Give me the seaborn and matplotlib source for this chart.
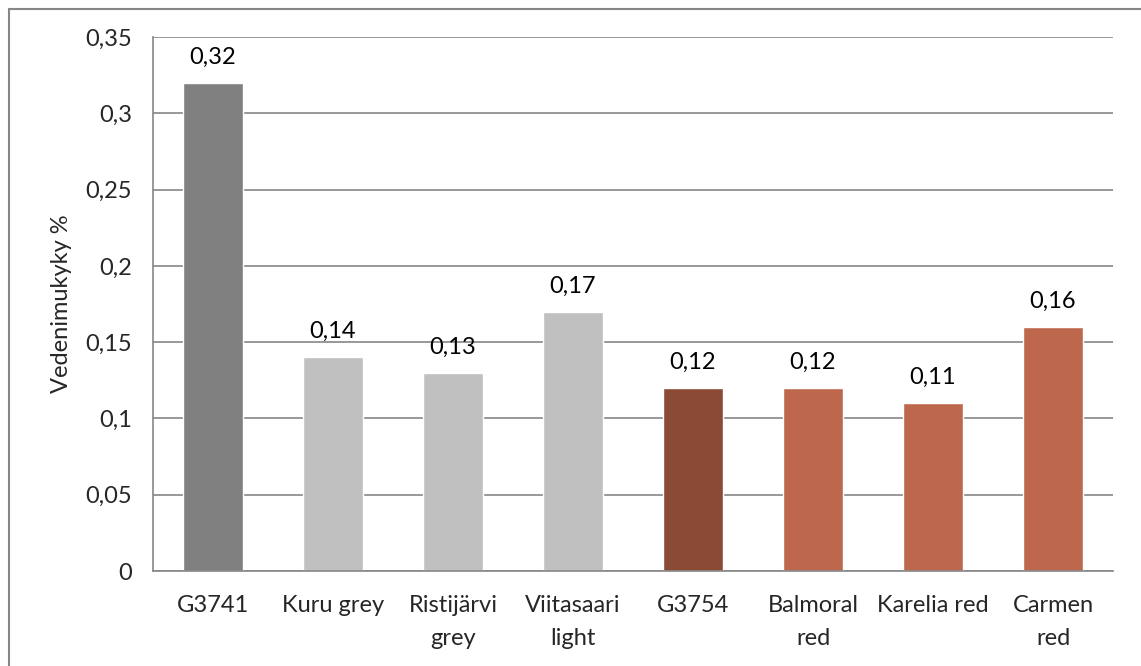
import matplotlib
matplotlib.use("Agg")
import matplotlib.pyplot as plt
import seaborn as sns
import pandas as pd
from matplotlib.lines import Line2D

# Data
categories = ["G3741", "Kuru grey", "Ristijärvi\ngrey", "Viitasaari\nlight",
              "G3754", "Balmoral\nred", "Karelia red", "Carmen\nred"]
values = [0.32, 0.14, 0.13, 0.17, 0.12, 0.12, 0.11, 0.16]
colors = ["#808080", "#C0C0C0", "#C0C0C0", "#C0C0C0",
          "#8B4A36", "#BD684C", "#BD684C", "#BD684C"]
y_ticks = [0, 0.05, 0.1, 0.15, 0.2, 0.25, 0.3, 0.35]

df = pd.DataFrame({"kivi": categories, "arvo": values})

sns.set_style("white")
plt.rcParams["font.family"] = ["Lato", "DejaVu Sans"]
fs = 17

fig = plt.figure(figsize=(11.41, 6.66), dpi=100)
ax = fig.add_axes([153 / 1141, 1 - 571 / 666, 960 / 1141, 534 / 666])

sns.barplot(data=df, x="kivi", y="arvo", hue="kivi", palette=colors,
            width=0.5, legend=False, ax=ax, saturation=1)

# value labels with decimal comma
for cont in ax.containers:
    ax.bar_label(cont, labels=[f"{v:g}".replace(".", ",") for v in cont.datavalues],
                 padding=11, fontsize=fs, color="#000000")

grid_c = "#868686"
ax.set_ylim(0, 0.35)
ax.set_xlim(-0.5, len(categories) - 0.5)
ax.set_yticks(y_ticks)
ax.set_yticklabels([f"{t:g}".replace(".", ",") for t in y_ticks], fontsize=fs)
ax.yaxis.grid(True, color=grid_c, linewidth=1.2)
ax.set_axisbelow(True)

ax.set_xticks(range(len(categories)))
ax.set_xticklabels(categories, fontsize=fs, linespacing=1.7, va="top")
ax.set_xticks([i + 0.5 for i in range(-1, len(categories))], minor=True)
ax.tick_params(axis="x", which="major", length=0, pad=17)
ax.tick_params(axis="x", which="minor", length=7, width=1.2, color=grid_c)
ax.tick_params(axis="y", length=7, width=1.2, color=grid_c, pad=8)

for s in ["top", "right"]:
    ax.spines[s].set_visible(False)
for s in ["left", "bottom"]:
    ax.spines[s].set_color(grid_c)
    ax.spines[s].set_linewidth(1.2)

ax.set_xlabel("")
ax.set_ylabel("Vedenimukyky %", fontsize=fs, labelpad=10)

# outer chart border (only left and top edges fall inside the picture)
fig.add_artist(Line2D([8.5 / 1141, 8.5 / 1141], [0, 1 - 8.5 / 666],
                      transform=fig.transFigure, color=grid_c, linewidth=1.5))
fig.add_artist(Line2D([8.5 / 1141, 1], [1 - 8.5 / 666, 1 - 8.5 / 666],
                      transform=fig.transFigure, color=grid_c, linewidth=1.5))

fig.savefig("out.png", dpi=100)
